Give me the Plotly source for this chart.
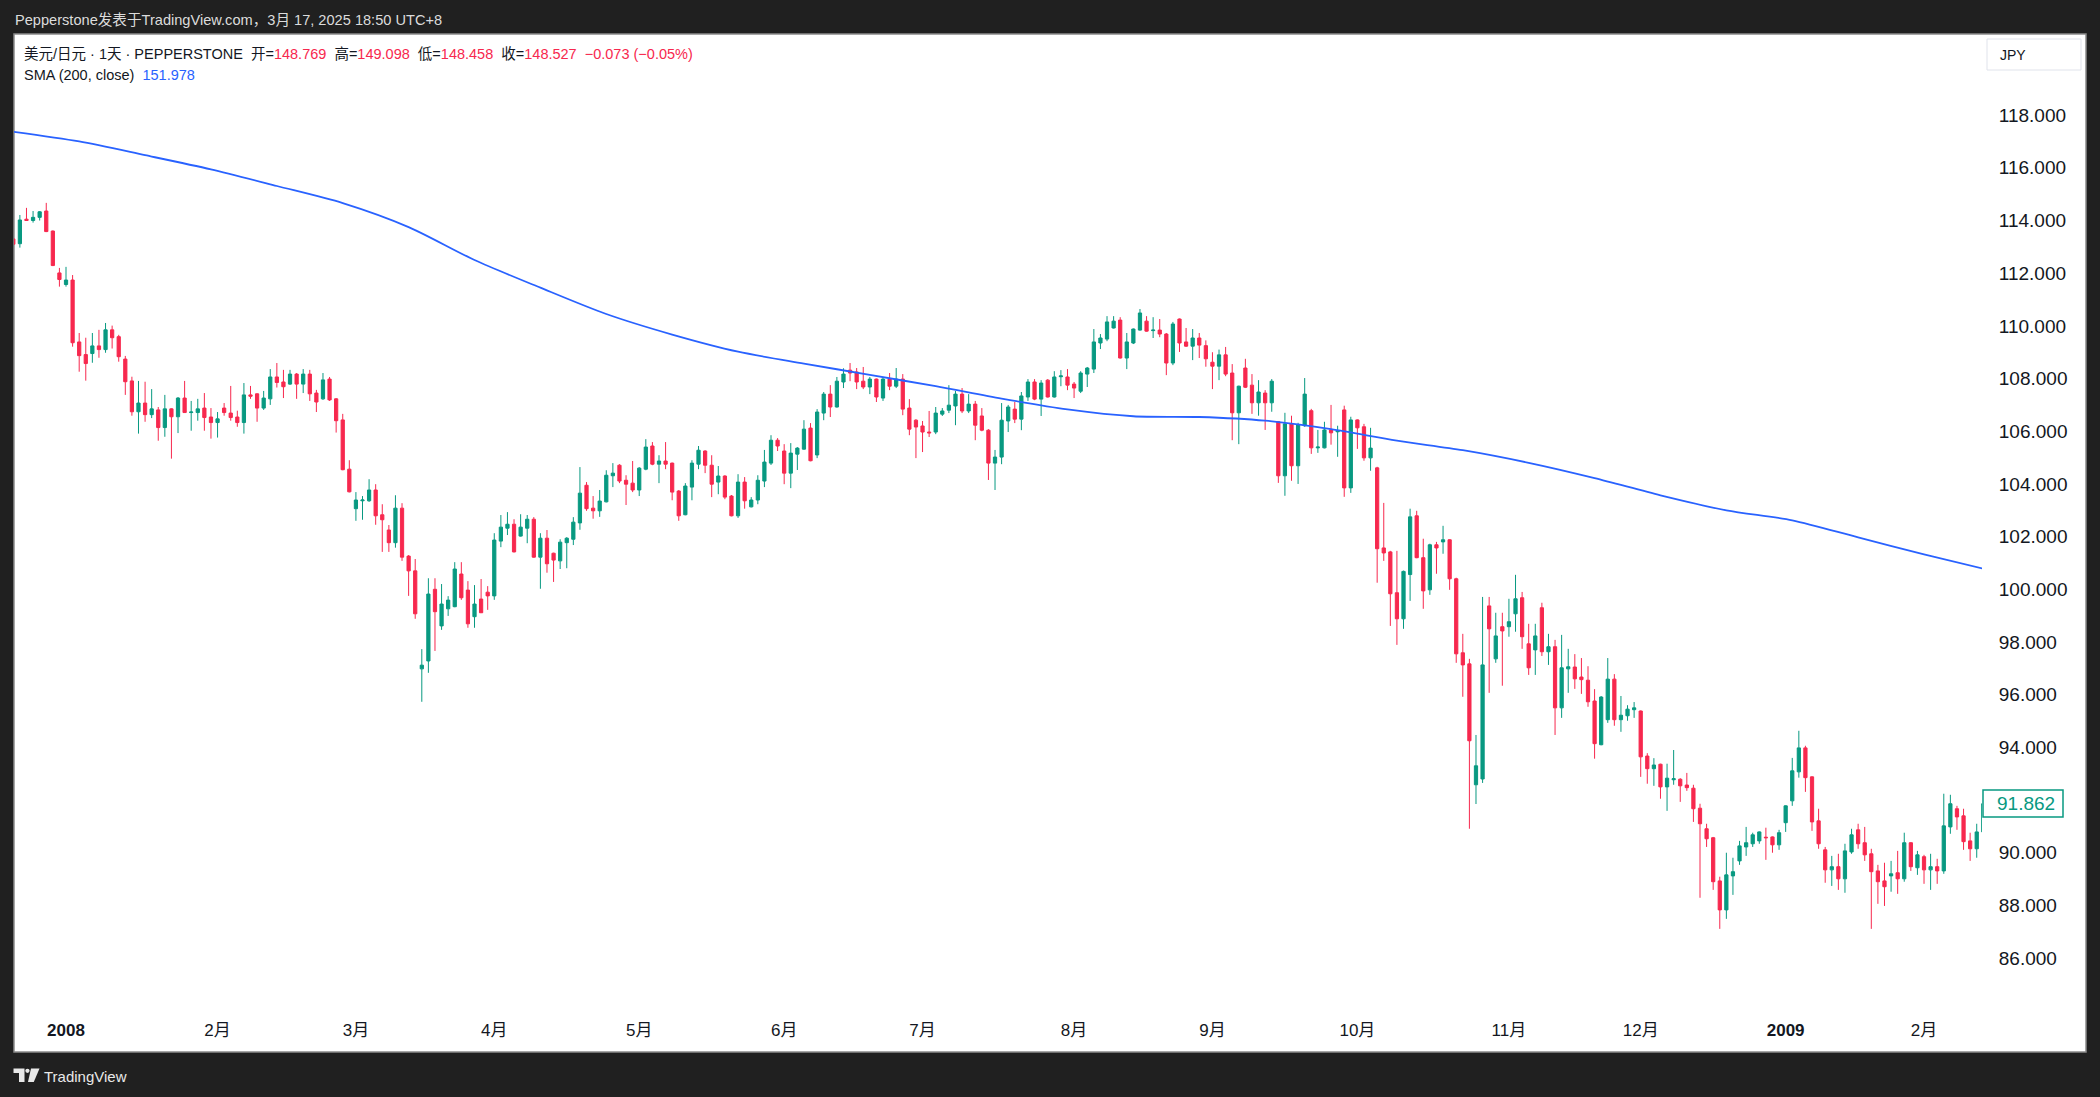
import pandas as pd
import plotly.graph_objects as go

# ---------------- data ----------------
opens = [
    113.30, 113.12, 114.05, 114.00, 114.12, 114.36, 113.60, 112.01, 111.57, 111.74,
    109.39, 108.91, 108.95, 109.24, 109.10, 109.85, 109.59, 108.74, 107.91, 106.74,
    107.07, 106.63, 106.81, 106.14, 106.85, 106.55, 107.26, 106.71, 106.71, 106.88,
    106.54, 106.33, 106.88, 106.69, 106.54, 106.33, 107.38, 107.42, 106.88, 107.23,
    108.06, 107.87, 107.79, 108.17, 107.79, 108.17, 107.45, 107.23, 107.98, 107.23,
    106.43, 104.56, 103.06, 103.36, 103.36, 103.77, 102.83, 102.25, 101.77, 103.08,
    101.26, 100.70, 96.98, 97.28, 100.00, 98.61, 99.26, 99.34, 100.58, 99.97,
    98.96, 99.63, 99.89, 99.75, 101.83, 102.32, 102.47, 102.02, 102.32, 102.66,
    101.22, 101.94, 101.37, 101.08, 101.77, 101.90, 102.52, 103.95, 103.08, 102.98,
    103.32, 104.31, 104.71, 104.14, 104.03, 103.77, 104.56, 105.44, 104.75, 104.87,
    104.79, 103.73, 102.83, 103.88, 104.75, 105.25, 104.71, 104.07, 104.30, 103.54,
    102.79, 104.07, 103.13, 103.39, 104.11, 104.79, 105.66, 105.25, 104.41, 105.13,
    105.32, 106.12, 105.10, 106.69, 107.41, 106.92, 107.87, 108.32, 108.25, 107.90,
    107.68, 107.98, 107.26, 107.98, 107.71, 107.98, 106.88, 106.42, 106.20, 105.97,
    105.97, 106.65, 106.80, 106.96, 107.41, 106.77, 107.03, 106.58, 106.04, 104.79,
    105.02, 106.39, 106.84, 106.46, 107.30, 107.87, 107.22, 107.94, 107.30, 108.07,
    108.06, 107.79, 107.52, 108.17, 108.36, 109.35, 109.50, 109.92, 110.22, 108.78,
    109.35, 109.84, 110.18, 109.82, 109.84, 109.69, 108.59, 110.26, 109.39, 109.23,
    109.54, 109.25, 108.62, 108.47, 108.90, 108.21, 106.70, 108.40, 107.75, 107.08,
    107.45, 107.08, 106.36, 104.31, 106.28, 104.69, 106.21, 106.78, 105.37, 105.37,
    106.05, 105.98, 106.81, 103.85, 106.43, 106.17, 104.99, 104.61, 101.57, 101.42,
    99.87, 98.88, 100.56, 102.79, 101.20, 99.98, 101.69, 101.80, 101.88, 100.40,
    97.59, 97.17, 92.58, 92.80, 99.37, 97.36, 98.58, 98.58, 99.07, 99.68,
    97.93, 97.70, 99.30, 97.63, 97.82, 95.50, 96.98, 97.05, 96.67, 96.55,
    95.76, 94.10, 95.05, 96.59, 95.05, 95.20, 95.43, 95.38, 93.67, 93.19,
    93.36, 92.50, 92.77, 92.79, 92.57, 92.45, 91.69, 90.91, 90.57, 88.93,
    87.83, 89.12, 89.69, 90.22, 90.34, 90.45, 90.59, 90.60, 90.30, 91.14,
    91.97, 93.07, 93.98, 92.88, 91.21, 90.11, 89.35, 89.47, 89.01, 90.03,
    90.87, 90.38, 89.96, 89.31, 88.93, 89.12, 89.24, 89.01, 90.38, 89.43,
    89.85, 89.35, 89.47, 89.31, 90.98, 91.67, 91.40, 90.45, 90.15, 90.79,
]
highs = [
    113.35, 114.21, 114.48, 114.36, 114.36, 114.67, 113.62, 112.20, 112.24, 111.93,
    109.73, 109.55, 109.73, 109.85, 110.11, 110.01, 109.66, 108.86, 108.07, 107.91,
    107.88, 107.60, 106.92, 107.38, 106.87, 107.30, 107.91, 107.15, 107.23, 107.45,
    106.88, 106.73, 107.07, 107.72, 106.78, 107.83, 107.72, 107.44, 107.53, 108.36,
    108.59, 108.33, 108.33, 108.21, 108.36, 108.33, 107.57, 108.21, 108.06, 107.26,
    106.66, 104.90, 103.69, 103.54, 104.18, 103.99, 103.23, 102.44, 103.57, 103.27,
    101.30, 101.15, 97.73, 100.42, 100.42, 100.20, 99.74, 101.03, 101.03, 100.31,
    100.16, 100.39, 100.12, 102.13, 102.82, 102.93, 102.66, 102.85, 102.82, 102.74,
    102.13, 102.25, 101.39, 101.90, 101.98, 102.74, 104.64, 104.07, 103.54, 103.77,
    104.52, 104.79, 104.75, 104.33, 104.87, 104.64, 105.70, 105.59, 105.09, 105.59,
    104.81, 103.77, 104.03, 104.90, 105.44, 105.28, 105.09, 104.68, 104.33, 103.58,
    104.37, 104.26, 103.50, 104.33, 105.29, 105.85, 105.74, 105.51, 105.55, 105.40,
    106.42, 106.31, 106.84, 107.49, 107.75, 108.06, 108.39, 108.59, 108.40, 108.44,
    108.06, 108.00, 108.06, 108.21, 108.40, 108.17, 107.22, 106.46, 106.39, 106.77,
    106.92, 106.88, 107.75, 107.53, 107.64, 107.41, 107.15, 106.88, 106.08, 105.29,
    107.07, 107.00, 107.11, 107.49, 107.98, 107.98, 107.94, 107.98, 108.28, 108.32,
    108.36, 107.87, 108.28, 108.44, 109.88, 109.69, 110.37, 110.37, 110.33, 109.73,
    109.90, 110.64, 110.37, 110.33, 110.26, 109.73, 110.15, 110.28, 109.92, 109.88,
    109.73, 109.45, 109.00, 109.10, 109.20, 108.55, 107.73, 108.75, 108.17, 107.94,
    107.56, 107.98, 106.38, 106.70, 106.59, 106.32, 108.02, 106.85, 106.05, 106.36,
    107.00, 106.21, 106.97, 106.55, 106.45, 106.28, 106.13, 104.65, 103.28, 101.46,
    101.46, 100.71, 103.06, 102.98, 101.92, 101.73, 101.80, 102.41, 101.90, 100.44,
    98.31, 97.36, 94.47, 99.71, 99.71, 99.11, 99.11, 99.64, 100.55, 99.90,
    98.69, 98.69, 99.49, 98.31, 98.08, 98.27, 97.74, 97.54, 97.39, 97.08,
    96.21, 95.95, 97.39, 96.78, 95.95, 95.60, 95.72, 95.40, 93.78, 93.59,
    93.38, 93.38, 93.90, 92.83, 93.03, 92.58, 91.86, 91.10, 90.60, 89.09,
    90.00, 89.81, 90.45, 90.98, 90.76, 90.81, 90.95, 90.62, 90.87, 91.80,
    93.60, 94.63, 94.06, 92.90, 91.67, 90.22, 89.88, 89.96, 90.34, 90.91,
    91.10, 90.98, 90.15, 89.54, 89.62, 89.69, 90.07, 90.76, 90.40, 90.07,
    89.92, 89.96, 89.77, 92.24, 92.20, 91.78, 91.67, 90.76, 91.10, 91.90,
]
lows = [
    113.05, 112.97, 113.99, 113.92, 114.00, 113.56, 112.27, 111.49, 111.49, 109.21,
    108.26, 107.92, 108.60, 108.79, 108.98, 109.14, 108.64, 107.38, 106.59, 105.91,
    106.36, 106.50, 105.64, 105.79, 104.96, 105.93, 106.70, 106.02, 106.40, 106.02,
    105.72, 105.76, 106.59, 106.40, 106.17, 105.91, 107.23, 106.36, 106.81, 107.00,
    107.66, 107.26, 107.76, 107.23, 107.45, 107.15, 106.73, 107.19, 107.15, 105.95,
    104.52, 103.68, 102.60, 102.64, 103.32, 102.45, 101.42, 101.42, 101.58, 101.08,
    99.75, 98.88, 95.73, 96.83, 97.66, 98.46, 98.99, 99.32, 99.60, 98.54,
    98.54, 99.10, 99.22, 99.60, 101.60, 102.06, 101.40, 102.00, 101.75, 101.20,
    100.02, 100.63, 100.28, 100.77, 100.80, 101.68, 102.26, 102.98, 102.68, 102.75,
    103.30, 103.88, 104.03, 103.20, 103.69, 103.54, 104.52, 104.71, 104.03, 104.56,
    103.38, 102.60, 102.81, 103.38, 104.56, 104.41, 103.50, 103.61, 103.42, 102.77,
    102.71, 103.06, 103.11, 103.23, 103.88, 104.72, 105.25, 103.99, 103.84, 104.53,
    105.30, 104.86, 104.98, 106.42, 106.54, 106.90, 107.64, 107.90, 107.60, 107.60,
    107.41, 107.11, 107.15, 107.56, 107.64, 106.61, 105.85, 104.98, 105.21, 105.78,
    105.89, 106.58, 106.69, 106.23, 106.69, 106.69, 105.66, 106.00, 104.15, 103.77,
    104.75, 105.97, 106.31, 106.04, 107.15, 107.18, 106.58, 107.28, 107.28, 107.71,
    107.56, 107.26, 107.45, 107.68, 108.21, 109.12, 109.42, 109.90, 108.76, 108.36,
    109.31, 109.82, 109.78, 109.54, 109.57, 108.13, 108.51, 109.01, 109.20, 108.70,
    108.78, 108.45, 107.60, 107.94, 108.09, 105.66, 105.51, 107.64, 106.66, 106.59,
    106.05, 106.74, 104.04, 103.55, 104.12, 104.00, 106.17, 105.14, 105.18, 105.35,
    105.49, 105.03, 103.51, 103.66, 105.33, 104.88, 104.50, 100.25, 101.08, 98.61,
    97.89, 98.50, 99.56, 101.18, 99.26, 99.79, 100.59, 101.35, 99.98, 97.21,
    95.92, 90.91, 91.85, 92.65, 96.07, 97.21, 96.34, 98.20, 98.39, 97.74,
    96.75, 96.75, 97.47, 97.13, 94.47, 95.12, 96.07, 96.22, 96.03, 95.54,
    93.57, 94.08, 94.93, 94.82, 94.59, 95.01, 95.12, 92.88, 92.62, 92.54,
    92.05, 91.59, 92.58, 91.93, 92.35, 91.17, 88.29, 90.22, 88.59, 87.11,
    87.49, 88.40, 89.54, 89.88, 90.22, 90.34, 89.73, 90.00, 90.11, 90.79,
    91.78, 92.85, 92.31, 90.83, 90.15, 88.86, 88.74, 88.59, 88.48, 89.96,
    90.15, 89.69, 87.11, 88.06, 87.98, 88.52, 88.44, 88.90, 89.31, 89.16,
    88.82, 88.59, 88.82, 89.20, 90.72, 90.87, 90.11, 89.69, 89.81, 90.75,
]
closes = [
    113.10, 114.02, 114.00, 114.12, 114.33, 113.58, 112.29, 111.76, 111.74, 109.36,
    108.87, 108.57, 109.24, 109.10, 109.85, 109.55, 108.83, 107.88, 106.74, 107.07,
    106.63, 106.85, 106.14, 106.85, 106.55, 107.26, 106.71, 106.73, 106.85, 106.52,
    106.33, 106.47, 106.71, 106.52, 106.33, 107.38, 107.33, 106.88, 107.26, 108.06,
    107.85, 107.69, 108.17, 107.79, 108.17, 107.42, 107.11, 107.95, 107.19, 106.40,
    104.54, 103.70, 103.39, 103.39, 103.77, 102.79, 102.64, 101.77, 103.08, 101.22,
    100.70, 99.07, 97.12, 99.82, 99.15, 99.44, 99.59, 100.77, 99.68, 98.69,
    99.44, 99.11, 99.75, 101.87, 102.36, 102.47, 101.42, 102.36, 102.66, 101.22,
    101.94, 100.97, 101.11, 101.79, 101.94, 102.55, 103.65, 103.06, 102.98, 103.35,
    104.33, 104.41, 104.11, 103.99, 103.77, 104.60, 105.40, 104.75, 104.87, 104.75,
    103.69, 102.79, 103.92, 104.79, 105.28, 104.71, 103.99, 104.30, 103.50, 102.79,
    104.07, 103.36, 103.39, 104.14, 104.83, 105.66, 105.44, 104.41, 105.17, 105.36,
    106.08, 104.88, 106.73, 107.41, 106.92, 107.90, 108.17, 108.21, 107.87, 107.68,
    107.98, 107.30, 107.98, 107.71, 107.98, 106.84, 106.08, 106.16, 105.97, 105.94,
    106.69, 106.77, 106.99, 107.41, 106.77, 107.03, 106.23, 106.04, 104.79, 105.02,
    106.42, 106.92, 106.46, 107.34, 107.87, 107.22, 107.83, 107.30, 108.06, 108.10,
    107.75, 107.64, 108.21, 108.40, 109.39, 109.54, 110.15, 110.18, 108.78, 109.39,
    109.88, 110.49, 109.80, 109.84, 109.69, 108.59, 110.07, 109.35, 109.23, 109.54,
    109.27, 108.75, 108.47, 108.90, 108.17, 106.70, 107.71, 107.67, 107.08, 107.49,
    107.08, 107.90, 104.31, 106.28, 104.69, 106.24, 107.41, 105.37, 105.40, 106.05,
    105.94, 106.02, 103.85, 106.43, 106.13, 104.99, 105.36, 101.54, 101.38, 99.83,
    98.88, 100.68, 102.75, 101.20, 99.94, 101.69, 101.57, 101.88, 100.40, 97.55,
    97.13, 94.25, 93.30, 97.13, 98.50, 98.23, 98.42, 98.77, 99.64, 98.20,
    97.02, 98.23, 97.63, 97.82, 95.50, 97.02, 97.06, 96.60, 96.57, 95.73,
    94.14, 95.91, 96.59, 95.05, 95.22, 95.45, 95.50, 93.64, 93.19, 93.33,
    92.50, 92.83, 92.81, 92.54, 92.47, 91.67, 91.10, 90.53, 88.90, 87.83,
    89.16, 89.28, 90.26, 90.38, 90.68, 90.79, 90.57, 90.30, 90.76, 91.78,
    93.11, 93.98, 92.85, 91.17, 90.34, 89.35, 89.47, 89.01, 90.07, 90.68,
    90.34, 89.92, 89.28, 88.90, 88.71, 89.20, 89.01, 90.38, 89.47, 89.92,
    89.35, 89.47, 89.31, 91.02, 91.86, 91.36, 90.42, 90.15, 90.79, 91.862,
]
# SMA(200) read at every 10th bar (and the last bar)
sma_values = [
    117.37, 117.00, 116.48, 115.94, 115.31, 114.66, 113.75, 112.50, 111.45, 110.45,
    109.67, 109.02, 108.57, 108.14, 107.71, 107.24, 106.83, 106.57, 106.54, 106.40,
    106.08, 105.64, 105.28, 104.80, 104.22, 103.57, 103.00, 102.62, 101.97, 101.33,
    100.78,
]
tick_dates = ["2008-01-01", "2008-02-01", "2008-03-03", "2008-04-01", "2008-05-01",
              "2008-06-02", "2008-07-01", "2008-08-01", "2008-09-01", "2008-10-01",
              "2008-11-03", "2008-12-01", "2009-01-02", "2009-02-02"]
tick_labels = ["<b>2008</b>", "2月", "3月", "4月", "5月", "6月", "7月", "8月", "9月",
               "10月", "11月", "12月", "<b>2009</b>", "2月"]
y_ticks = [86, 88, 90, 92, 94, 96, 98, 100, 102, 104, 106, 108, 110, 112, 114, 116, 118]

# trading days (weekdays, two holidays not traded)
_days = [d.strftime("%Y-%m-%d") for d in pd.bdate_range("2007-12-20", "2009-03-31")]
dates = [d for d in _days if d not in ("2008-12-25", "2009-01-01")][:len(closes)]
sma_dates = dates[::10] + [dates[-1]]

# ---------------- style ----------------
UP = "#089981"
DOWN = "#f7284e"
TXT = "#131722"
BG = "#202020"
FONT = "Liberation Sans, Noto Sans CJK SC, sans-serif"

W, H = 2100, 1097
L, R, T, B = 14, 118, 34, 87
PW, PH = W - L - R, H - T - B


def px(x):
    return (x - L) / PW


def py(y):
    return (H - B - y) / PH


fig = go.Figure()
fig.add_trace(go.Candlestick(
    x=dates, open=opens, high=highs, low=lows, close=closes,
    increasing=dict(line=dict(color=UP, width=1), fillcolor=UP),
    decreasing=dict(line=dict(color=DOWN, width=1), fillcolor=DOWN),
    whiskerwidth=0, hoverinfo="skip", showlegend=False,
))
fig.add_trace(go.Scatter(
    x=sma_dates, y=sma_values, mode="lines",
    line=dict(color="#2962ff", width=1.8, shape="spline", smoothing=0.8),
    hoverinfo="skip", showlegend=False,
))

shapes = []
# white chart panel
shapes.append(dict(type="rect", xref="paper", yref="paper", layer="below",
                   x0=px(14), x1=px(2086), y0=py(1052), y1=py(34),
                   fillcolor="white", line=dict(color="#8a8a8a", width=1.5)))
# JPY box
shapes.append(dict(type="rect", xref="paper", yref="paper",
                   x0=px(1987), x1=px(2081), y0=py(70), y1=py(39),
                   fillcolor="white", line=dict(color="#e0e3eb", width=1)))
# last price box
last = closes[-1]
shapes.append(dict(type="rect", xref="paper", yref="y",
                   x0=px(1983), x1=px(2063), y0=last - 0.51, y1=last + 0.52,
                   fillcolor="white", line=dict(color=UP, width=1.5)))


def path(points):
    s = "M " + " L ".join(f"{px(a):.5f},{py(b):.5f}" for a, b in points) + " Z"
    return s


LOGO = "#e8e8e8"
shapes.append(dict(type="path", xref="paper", yref="paper", fillcolor=LOGO, line=dict(width=0),
                   path=path([(13.5, 1068.5), (24.5, 1068.5), (24.5, 1082), (19, 1082),
                              (19, 1073), (13.5, 1073)])))
shapes.append(dict(type="circle", xref="paper", yref="paper", fillcolor=LOGO, line=dict(width=0),
                   x0=px(25.3), x1=px(29.6), y0=py(1073), y1=py(1068.7)))
shapes.append(dict(type="path", xref="paper", yref="paper", fillcolor=LOGO, line=dict(width=0),
                   path=path([(31, 1068.5), (39.5, 1068.5), (33.8, 1082), (28, 1082)])))

red = DOWN
ann = []
ann.append(dict(x=px(13), y=py(20), xref="paper", yref="paper", xanchor="left", yanchor="middle",
                showarrow=False, font=dict(family=FONT, size=14.6, color="#dcdcdc"),
                text="Pepperstone发表于TradingView.com，3月 17, 2025 18:50 UTC+8"))
ann.append(dict(x=px(22), y=py(54), xref="paper", yref="paper", xanchor="left", yanchor="middle",
                showarrow=False, font=dict(family=FONT, size=14.5, color=TXT),
                text=("美元/日元 · 1天 · PEPPERSTONE&nbsp;&nbsp;开="
                      f"<span style='color:{red}'>148.769</span>&nbsp;&nbsp;高="
                      f"<span style='color:{red}'>149.098</span>&nbsp;&nbsp;低="
                      f"<span style='color:{red}'>148.458</span>&nbsp;&nbsp;收="
                      f"<span style='color:{red}'>148.527&nbsp;&nbsp;−0.073 (−0.05%)</span>")))
ann.append(dict(x=px(22), y=py(75), xref="paper", yref="paper", xanchor="left", yanchor="middle",
                showarrow=False, font=dict(family=FONT, size=14.5, color=TXT),
                text="SMA (200, close)&nbsp;&nbsp;<span style='color:#2962ff'>151.978</span>"))
ann.append(dict(x=px(1998), y=py(55), xref="paper", yref="paper", xanchor="left", yanchor="middle",
                showarrow=False, font=dict(family=FONT, size=14, color=TXT), text="JPY"))
ann.append(dict(x=px(2026), y=last, xref="paper", yref="y", xanchor="center", yanchor="middle",
                showarrow=False, font=dict(family=FONT, size=19, color=UP), text=f"{last:.3f}"))
ann.append(dict(x=px(42), y=py(1076), xref="paper", yref="paper", xanchor="left", yanchor="middle",
                showarrow=False, font=dict(family=FONT, size=15, color=LOGO), text="TradingView"))

fig.update_layout(
    width=W, height=H,
    margin=dict(l=L, r=R, t=T, b=B, pad=0),
    paper_bgcolor=BG, plot_bgcolor="white",
    font=dict(family=FONT, color=TXT),
    shapes=shapes, annotations=ann,
    showlegend=False,
    xaxis=dict(type="category", range=[0.106, 298.8], rangeslider=dict(visible=False),
               tickmode="array", tickvals=tick_dates, ticktext=tick_labels,
               showgrid=False, zeroline=False, showline=False,
               ticks="outside", ticklen=5, tickcolor="rgba(0,0,0,0)",
               tickfont=dict(family=FONT, size=17, color=TXT)),
    yaxis=dict(side="right", range=[84.03, 121.08], autorange=False,
               tickmode="array", tickvals=y_ticks, tickformat=".3f",
               showgrid=False, zeroline=False, showline=False,
               ticks="outside", ticklen=12, tickcolor="rgba(0,0,0,0)",
               tickfont=dict(family=FONT, size=19, color=TXT)),
)

fig.write_html("out.html", config={"displayModeBar": False})
